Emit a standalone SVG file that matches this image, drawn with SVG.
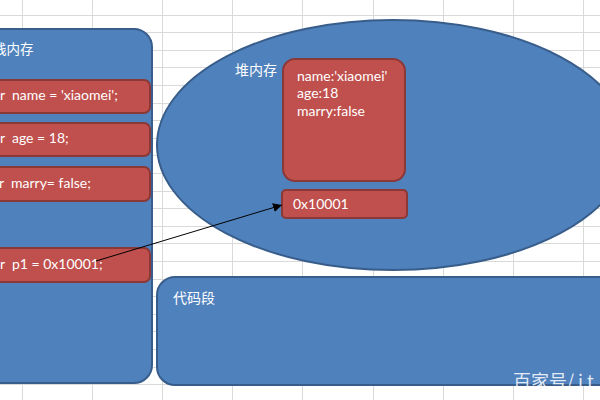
<svg xmlns="http://www.w3.org/2000/svg" width="600" height="400" viewBox="0 0 600 400">
<defs>
<style>
.grid{stroke:#d9d9d9;stroke-width:1;fill:none}
.blue{fill:#4f81bd;stroke:#385d8a;stroke-width:2}
.red{fill:#c0504d;stroke:#8c3836;stroke-width:2}
.t{font-family:Lato,"Liberation Sans","Noto Sans CJK SC",sans-serif;font-size:14px;fill:#ffffff}
.cjk{font-family:"Noto Sans CJK SC","Liberation Sans",sans-serif;font-size:14px;fill:#ffffff}
.conn{stroke:#000000;stroke-width:1;fill:none}
</style>
<marker id="arrow" viewBox="0 0 10 10" refX="10" refY="5" markerWidth="9" markerHeight="9" markerUnits="userSpaceOnUse" orient="auto">
<path d="M0,0 L10,5 L0,10 z" fill="#000000"/>
</marker>
</defs>
<rect x="0" y="0" width="600" height="400" fill="#ffffff"/>
<path class="grid" d="M0,15.5H600M0,32.5H600M0,50.5H600M0,67.5H600M0,85.5H600M0,103.5H600M0,120.5H600M0,138.5H600M0,155.5H600M0,173.5H600M0,191.5H600M0,208.5H600M0,226.5H600M0,243.5H600M0,261.5H600M0,279.5H600M0,296.5H600M0,314.5H600M0,331.5H600M0,349.5H600M0,367.5H600M0,384.5H600M22.5,0V400M92.5,0V400M162.5,0V400M232.5,0V400M302.5,0V400M373.5,0V400M443.5,0V400M513.5,0V400M583.5,0V400"/>

<g id="stack">
<rect class="blue" x="-30" y="29" width="182" height="354" rx="18" ry="18"/>
<text class="cjk" x="-7" y="54" style="font-size:13.5px">栈内存</text>
</g>
<g id="var-name">
<rect class="red" x="-20" y="80" width="170" height="33" rx="6" ry="6"/>
<text class="t" x="0" y="100" xml:space="preserve">r  name = 'xiaomei';</text>
</g>
<g id="var-age">
<rect class="red" x="-20" y="123" width="170" height="33" rx="6" ry="6"/>
<text class="t" x="0" y="143" xml:space="preserve">r  age = 18;</text>
</g>
<g id="var-marry">
<rect class="red" x="-20" y="167" width="170" height="34" rx="6" ry="6"/>
<text class="t" x="-1" y="187.5" xml:space="preserve">r  marry= false;</text>
</g>
<g id="var-p1">
<rect class="red" x="-20" y="248" width="170" height="34" rx="6" ry="6"/>
<text class="t" x="0" y="268.5" xml:space="preserve">r  p1 = 0x10001;</text>
</g>

<g id="heap">
<ellipse class="blue" cx="393" cy="145" rx="236" ry="125"/>
<text class="cjk" x="235" y="75">堆内存</text>
</g>
<g id="heap-object">
<rect class="red" x="283" y="59" width="122" height="122" rx="12" ry="12"/>
<text class="t" x="297" y="80.5">name:'xiaomei'</text>
<text class="t" x="297" y="98">age:18</text>
<text class="t" x="297" y="115.5">marry:false</text>
</g>
<g id="heap-address">
<rect class="red" x="282" y="190" width="125" height="28" rx="4" ry="4"/>
<text class="t" x="293" y="209">0x10001</text>
</g>

<g id="code">
<rect class="blue" x="157" y="277" width="470" height="108" rx="18" ry="18"/>
<text class="cjk" x="173" y="303">代码段</text>
</g>

<g id="connectors">
<line class="conn" x1="96" y1="261" x2="282" y2="205" marker-end="url(#arrow)"/>
</g>

<text x="513" y="388" style="font-family:'Noto Sans CJK SC','Liberation Sans',sans-serif;font-size:18px;fill:#ffffff;fill-opacity:0.85">百家号<tspan style="letter-spacing:4px">/it</tspan></text>
</svg>
